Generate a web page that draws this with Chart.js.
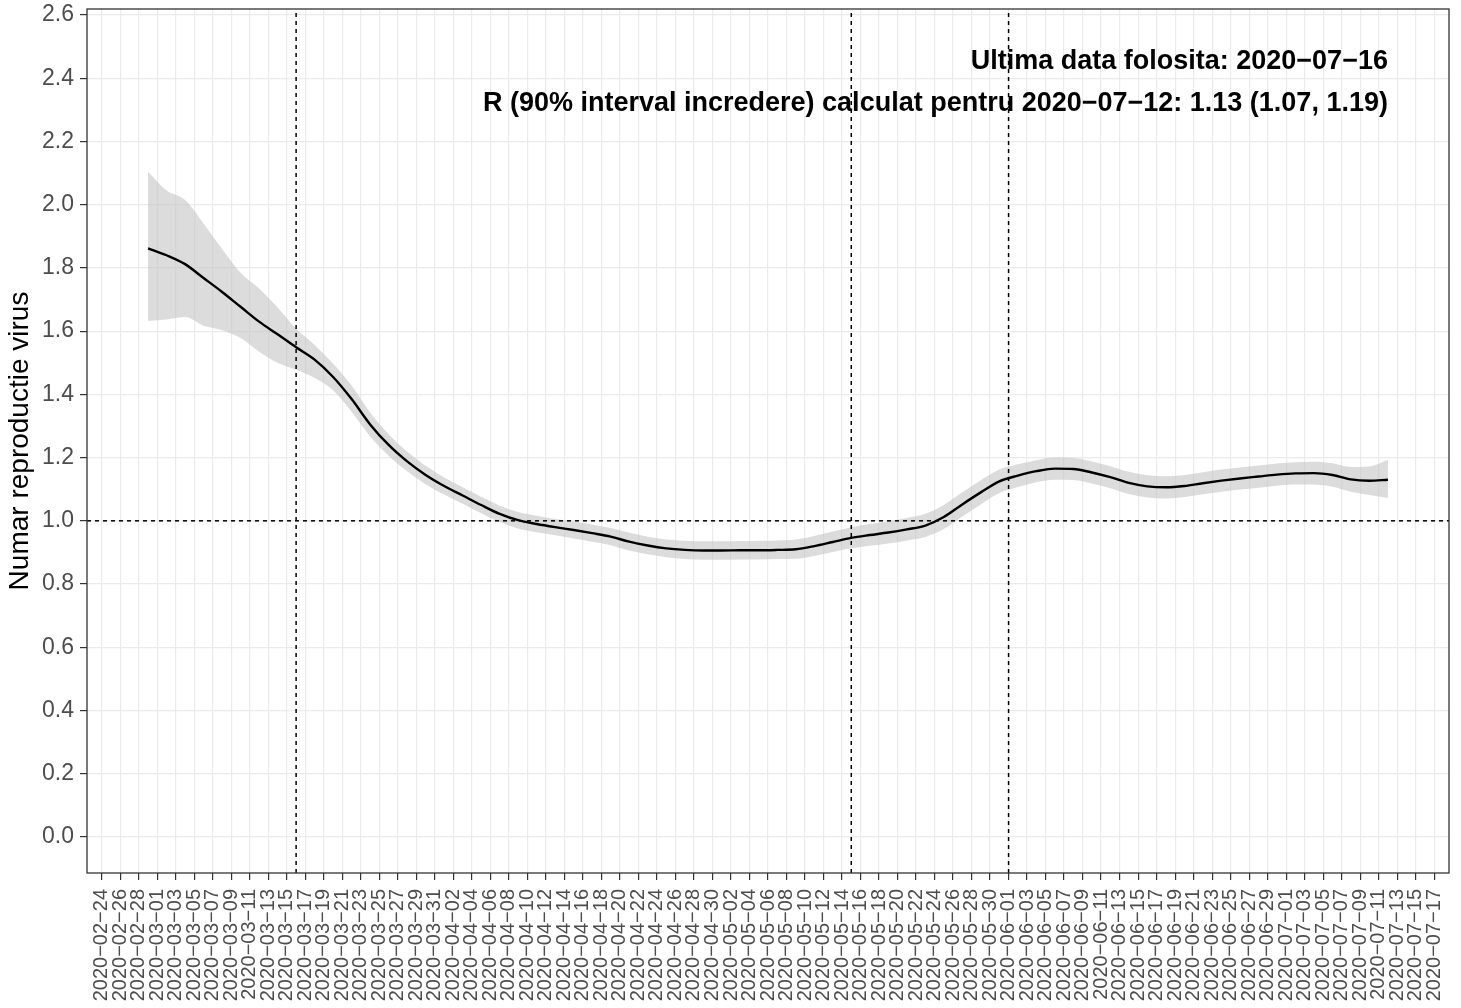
<!DOCTYPE html>
<html>
<head>
<meta charset="utf-8">
<script src="https://cdn.jsdelivr.net/npm/chart.js@4.4.1/dist/chart.umd.min.js"></script>
<style>
  html, body { margin: 0; padding: 0; background: #fff; }
  #wrap { width: 1461px; height: 1008px; }
</style>
</head>
<body>
<div id="wrap"><canvas id="rt"></canvas></div>
<script>
// date of each estimate (every 2 days)
var dates = ['2020-02-29','2020-03-02','2020-03-04','2020-03-06','2020-03-08','2020-03-10','2020-03-12','2020-03-14',
  '2020-03-16','2020-03-18','2020-03-20','2020-03-22','2020-03-24','2020-03-26','2020-03-28','2020-03-30',
  '2020-04-01','2020-04-03','2020-04-05','2020-04-07','2020-04-09','2020-04-11','2020-04-13','2020-04-15',
  '2020-04-17','2020-04-19','2020-04-21','2020-04-23','2020-04-25','2020-04-27','2020-04-29','2020-05-01',
  '2020-05-03','2020-05-05','2020-05-07','2020-05-09','2020-05-11','2020-05-13','2020-05-15','2020-05-17',
  '2020-05-19','2020-05-21','2020-05-23','2020-05-25','2020-05-27','2020-05-29','2020-05-31','2020-06-02',
  '2020-06-04','2020-06-06','2020-06-08','2020-06-10','2020-06-12','2020-06-14','2020-06-16','2020-06-18',
  '2020-06-20','2020-06-22','2020-06-24','2020-06-26','2020-06-28','2020-06-30','2020-07-02','2020-07-04',
  '2020-07-06','2020-07-08','2020-07-10','2020-07-12'];

// R estimat
var rValues = [1.862,1.840,1.812,1.768,1.724,1.677,1.630,1.590,
  1.549,1.510,1.455,1.385,1.305,1.240,1.188,1.145,
  1.110,1.080,1.050,1.022,1.002,0.990,0.980,0.971,
  0.961,0.950,0.934,0.922,0.913,0.908,0.906,0.906,
  0.907,0.907,0.908,0.910,0.920,0.933,0.946,0.955,
  0.963,0.973,0.985,1.012,1.052,1.090,1.125,1.143,
  1.157,1.165,1.164,1.153,1.138,1.120,1.109,1.106,
  1.110,1.119,1.127,1.134,1.140,1.146,1.150,1.151,
  1.145,1.131,1.127,1.130];

// interval de incredere 90%
var rUpper = [2.104,2.045,2.015,1.940,1.860,1.785,1.735,1.675,
  1.608,1.556,1.497,1.428,1.343,1.274,1.219,1.174,
  1.137,1.106,1.076,1.048,1.028,1.016,1.006,0.998,
  0.988,0.977,0.962,0.950,0.941,0.937,0.935,0.935,
  0.936,0.937,0.938,0.941,0.952,0.966,0.980,0.990,
  0.999,1.009,1.022,1.050,1.090,1.128,1.162,1.179,
  1.192,1.200,1.199,1.188,1.173,1.155,1.144,1.141,
  1.145,1.154,1.162,1.169,1.175,1.181,1.185,1.187,
  1.182,1.170,1.172,1.193];

var rLower = [1.632,1.637,1.645,1.617,1.603,1.578,1.535,1.500,
  1.478,1.452,1.413,1.345,1.267,1.206,1.157,1.116,
  1.083,1.054,1.024,0.996,0.976,0.964,0.954,0.944,
  0.934,0.923,0.906,0.894,0.885,0.879,0.877,0.877,
  0.878,0.878,0.879,0.880,0.889,0.901,0.913,0.921,
  0.928,0.938,0.949,0.974,1.014,1.052,1.088,1.107,
  1.122,1.130,1.129,1.118,1.103,1.085,1.074,1.071,
  1.075,1.084,1.092,1.099,1.105,1.111,1.115,1.115,
  1.108,1.092,1.082,1.072];

// linii de referinta
var markerDates = ['2020-03-16', '2020-05-15', '2020-06-01'];
var refValue = [1];

// axe
var firstTick = '2020-02-24';
var lastTick = '2020-07-17';
var yTicks = [0, 0.2, 0.4, 0.6, 0.8, 1.0, 1.2, 1.4, 1.6, 1.8, 2.0, 2.2, 2.4, 2.6];
var yLabel = 'Numar reproductie virus';
var notes = ['Ultima data folosita: 2020\u221207\u221216',
  'R (90% interval incredere) calculat pentru 2020\u221207\u221212: 1.13 (1.07, 1.19)'];

var Y_MIN = -0.114, Y_MAX = 2.619;
var DAY = 86400000;
var t0 = Date.parse(firstTick);
function dayOf(s) { return Math.round((Date.parse(s) - t0) / DAY); }
function fmtDay(v) {
  var d = new Date(t0 + v * DAY);
  var m = ('0' + (d.getUTCMonth() + 1)).slice(-2), dd = ('0' + d.getUTCDate()).slice(-2);
  return d.getUTCFullYear() + '\u2212' + m + '\u2212' + dd;
}
var xTicks = [];
for (var k = 0; k <= dayOf(lastTick); k += 2) xTicks.push(k);
var X_MIN = -1.6, X_MAX = dayOf(lastTick) + 1.6;

function pts(vals) { return dates.map(function (s, i) { return {x: dayOf(s), y: vals[i]}; }); }

var dashed = {borderColor: '#000', borderWidth: 1.5, borderDash: [4, 4], pointRadius: 0, fill: false, order: 1};
var sets = [{
  data: pts(rValues), borderColor: '#000', borderWidth: 2.4, pointRadius: 0,
  cubicInterpolationMode: 'monotone', fill: false, order: 0
}];
markerDates.forEach(function (s) {
  sets.push(Object.assign({data: [{x: dayOf(s), y: Y_MIN}, {x: dayOf(s), y: Y_MAX}]}, dashed));
});
refValue.forEach(function (v) {
  sets.push(Object.assign({data: [{x: X_MIN, y: v}, {x: X_MAX, y: v}]}, dashed));
});
sets.push({data: pts(rLower), borderWidth: 0, pointRadius: 0, cubicInterpolationMode: 'monotone', fill: false, order: 3});
sets.push({data: pts(rUpper), borderWidth: 0, pointRadius: 0, cubicInterpolationMode: 'monotone',
  fill: '-1', backgroundColor: 'rgba(195,195,195,0.58)', order: 3});

// chenar + text
var frame = {
  id: 'frame',
  afterDatasetsDraw: function (chart) {
    var a = chart.chartArea, ctx = chart.ctx;
    ctx.save();
    ctx.strokeStyle = '#333333';
    ctx.lineWidth = 1.3;
    ctx.strokeRect(a.left, a.top, a.right - a.left, a.bottom - a.top);
    ctx.font = 'bold 27px "Liberation Sans", Arial, sans-serif';
    ctx.fillStyle = '#000';
    ctx.textAlign = 'right';
    ctx.textBaseline = 'middle';
    var xr = chart.scales.x.getPixelForValue(dayOf(dates[dates.length - 1]));
    ctx.fillText(notes[0], xr, a.top + 53);
    ctx.fillText(notes[1], xr, a.top + 95);
    ctx.restore();
  }
};

Chart.defaults.font.family = '"Liberation Sans", Arial, sans-serif';

new Chart(document.getElementById('rt').getContext('2d'), {
  type: 'line',
  data: {datasets: sets},
  options: {
    responsive: true,
    maintainAspectRatio: false,
    animation: false,
    layout: {padding: {top: 9, right: 12, left: 0, bottom: 0}},
    plugins: {legend: {display: false}, tooltip: {enabled: false}},
    scales: {
      x: {
        type: 'linear', min: X_MIN, max: X_MAX,
        afterBuildTicks: function (s) { s.ticks = xTicks.map(function (v) { return {value: v}; }); },
        afterFit: function (s) { s.height = 135; s.paddingLeft = 0; s.paddingRight = 0; },
        grid: {color: '#EBEBEB', lineWidth: 1.2, tickColor: '#333333', tickLength: 7},
        border: {display: false},
        ticks: {
          autoSkip: false, minRotation: 90, maxRotation: 90, padding: 9,
          color: '#4D4D4D', font: {size: 20},
          callback: function (v) { return fmtDay(v); }
        }
      },
      y: {
        min: Y_MIN, max: Y_MAX,
        afterBuildTicks: function (s) { s.ticks = yTicks.map(function (v) { return {value: v}; }); },
        afterFit: function (s) { s.width = 87; s.paddingTop = 0; s.paddingBottom = 0; },
        grid: {color: '#EBEBEB', lineWidth: 1.2, tickColor: '#333333', tickLength: 7},
        border: {display: false},
        ticks: {padding: 6, color: '#4D4D4D', font: {size: 23}, callback: function (v) { return v.toFixed(1); }},
        title: {display: true, text: yLabel, color: '#000', font: {size: 28}, padding: {top: 3, bottom: 0}}
      }
    }
  },
  plugins: [frame]
});
</script>
</body>
</html>
